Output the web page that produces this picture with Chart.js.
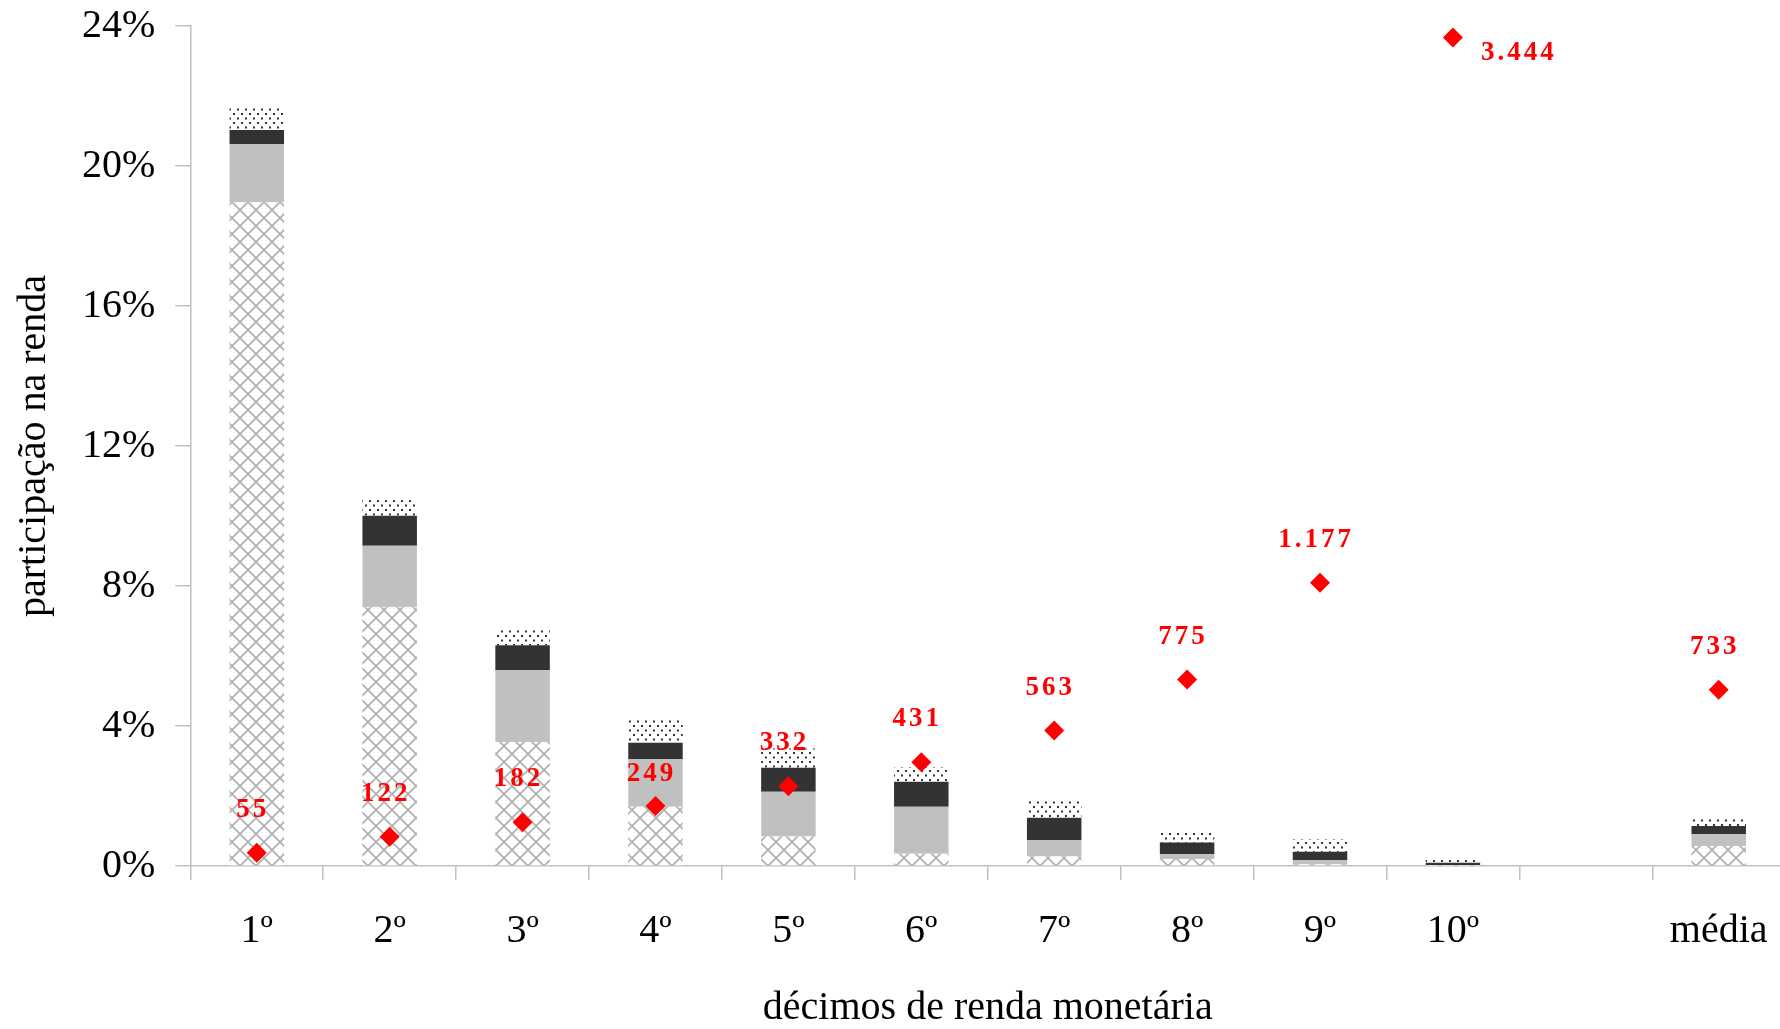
<!DOCTYPE html>
<html>
<head>
<meta charset="utf-8">
<script src="https://cdn.jsdelivr.net/npm/chart.js@4"></script>
<style>
  html, body { margin: 0; padding: 0; background: #fff; overflow: hidden; }
  #chart { display: block; margin-top: -14px; }
</style>
</head>
<body>
<canvas id="chart" width="1799" height="1045"></canvas>
<script>
// décimos de renda
const categorias = ['1º', '2º', '3º', '4º', '5º', '6º', '7º', '8º', '9º', '10º', '', 'média'];

// participação na renda (%), quatro componentes empilhados
const compHachurado = [18.97, 7.39, 3.54, 1.69, 0.84, 0.35, 0.27, 0.20, 0.05, 0.01, null, 0.57];
const compCinza     = [1.66, 1.76, 2.05, 1.37, 1.28, 1.34, 0.47, 0.14, 0.12, 0.02, null, 0.34];
const compEscuro    = [0.40, 0.86, 0.72, 0.46, 0.69, 0.72, 0.64, 0.33, 0.24, 0.06, null, 0.23];
const compPontilhado = [0.66, 0.50, 0.45, 0.68, 0.55, 0.42, 0.51, 0.33, 0.36, 0.10, null, 0.22];

// renda monetária média (R$)
const rendaMedia = [55, 122, 182, 249, 332, 431, 563, 775, 1177, 3444, null, 733];

const yTicks = [0, 4, 8, 12, 16, 20, 24];

const serif = "'Liberation Serif', 'DejaVu Serif', serif";

function makePattern(w, h, draw) {
  const c = document.createElement('canvas');
  c.width = w; c.height = h;
  const g = c.getContext('2d');
  g.fillStyle = '#fff';
  g.fillRect(0, 0, w, h);
  draw(g);
  return document.getElementById('chart').getContext('2d').createPattern(c, 'repeat');
}

const hatch = makePattern(16, 16, g => {
  g.strokeStyle = '#b0b0b0';
  g.lineWidth = 1.7;
  g.beginPath();
  g.moveTo(-2, -2); g.lineTo(18, 18);
  g.moveTo(18, -2); g.lineTo(-2, 18);
  g.stroke();
});

const dots = makePattern(8, 9, g => {
  g.fillStyle = '#333';
  g.fillRect(1, 1, 2, 2);
  g.fillRect(5, 5.5, 2, 2);
});

function fmt(v) {
  return String(v).replace(/\B(?=(\d{3})+(?!\d))/g, '.');
}

// rótulos vermelhos acima dos losangos
const valueLabels = {
  id: 'valueLabels',
  afterDatasetsDraw(chart) {
    const meta = chart.getDatasetMeta(4);
    const ctx = chart.ctx;
    ctx.save();
    ctx.font = "bold 27px " + serif;
    ctx.fillStyle = '#ff0000';
    ctx.letterSpacing = '3px';
    ctx.textAlign = 'center';
    ctx.textBaseline = 'middle';
    meta.data.forEach((pt, i) => {
      const v = rendaMedia[i];
      if (v == null) return;
      let dx = -4, dy = -43;
      if (i === 3) dy = -32;
      if (i === 9) { dx = 66; dy = 15; }
      ctx.fillText(fmt(v), pt.x + dx, pt.y + dy);
    });
    ctx.restore();
  }
};

new Chart(document.getElementById('chart'), {
  data: {
    labels: categorias,
    datasets: [
      { type: 'bar', data: compHachurado, backgroundColor: hatch, order: 1 },
      { type: 'bar', data: compCinza, backgroundColor: '#c0c0c0', order: 1 },
      { type: 'bar', data: compEscuro, backgroundColor: '#333333', order: 1 },
      { type: 'bar', data: compPontilhado, backgroundColor: dots, order: 1 },
      {
        type: 'line', data: rendaMedia, yAxisID: 'y2', showLine: false, order: 0,
        pointStyle: 'rectRot', pointRadius: 10, pointHoverRadius: 10,
        backgroundColor: '#ff0000', borderColor: '#ff0000', borderWidth: 0
      }
    ]
  },
  options: {
    responsive: false,
    animation: false,
    layout: { padding: { top: 0, right: 3, left: 0, bottom: 0 } },
    datasets: { bar: { barPercentage: 0.41, categoryPercentage: 1, borderWidth: 0 } },
    plugins: { legend: { display: false }, tooltip: { enabled: false } },
    scales: {
      x: {
        stacked: true,
        offset: true,
        border: { color: '#bfbfbf', width: 1.5 },
        grid: { offset: true, drawOnChartArea: false, drawTicks: true, tickLength: 14, color: '#bfbfbf', lineWidth: 1.5 },
        ticks: { font: { family: serif, size: 40, lineHeight: 1.0 }, color: '#000', padding: 31, maxRotation: 0, autoSkip: false },
        title: {
          display: true, text: 'décimos de renda monetária', color: '#000',
          font: { family: serif, size: 40, lineHeight: 1.15 }, padding: { top: 3, bottom: 0 }
        }
      },
      y: {
        stacked: true,
        min: 0, max: 24,
        afterBuildTicks: s => { s.ticks = yTicks.map(v => ({ value: v })); },
        border: { color: '#bfbfbf', width: 1.5 },
        grid: { drawOnChartArea: false, drawTicks: true, tickLength: 15, color: '#bfbfbf', lineWidth: 1.5 },
        ticks: { font: { family: serif, size: 40, lineHeight: 1.0 }, color: '#000', padding: 20, callback: v => v + '%' },
        title: {
          display: true, text: 'participação na renda', color: '#000',
          font: { family: serif, size: 40, lineHeight: 1.2 }, padding: { top: 10, bottom: 4 }
        }
      },
      y2: {
        display: false, stacked: false,
        min: 0, max: 3492
      }
    }
  },
  plugins: [valueLabels]
});
</script>
</body>
</html>
